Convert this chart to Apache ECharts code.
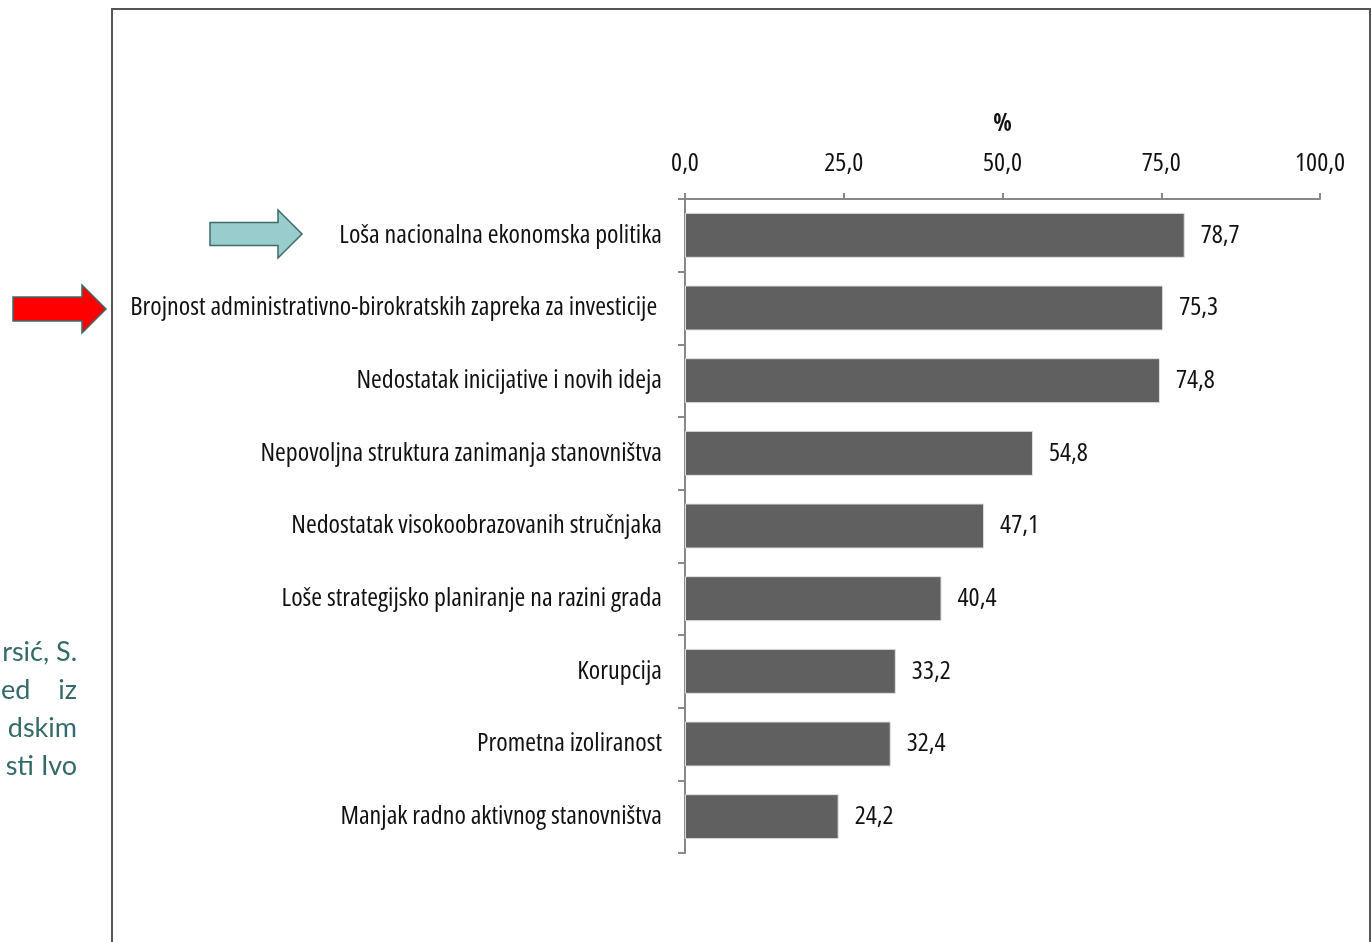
<!DOCTYPE html>
<html>
<head>
<meta charset="utf-8">
<title>Prepreke razvoju</title>
<script src="https://cdn.jsdelivr.net/npm/echarts@6/dist/echarts.min.js"></script>
<style>
    html, body { margin: 0; padding: 0; background: #fff; }
    #chart { width: 1371px; height: 942px; }
</style>
</head>
<body>
<div id="chart"></div>
<script>
var categories = [
    "Loša nacionalna ekonomska politika",
    "Brojnost administrativno-birokratskih zapreka za investicije ",
    "Nedostatak inicijative i novih ideja",
    "Nepovoljna struktura zanimanja stanovništva",
    "Nedostatak visokoobrazovanih stručnjaka",
    "Loše strategijsko planiranje na razini grada",
    "Korupcija",
    "Prometna izoliranost",
    "Manjak radno aktivnog stanovništva"
];
var values = [78.7, 75.3, 74.8, 54.8, 47.1, 40.4, 33.2, 32.4, 24.2];
var sideText = ["rsić, S.", "ed|iz", "dskim", "sti Ivo"];

// Open Sans has a width axis, "condensed" goes in the weight slot of the font string
var family = "'Open Sans', sans-serif";
var stretch = "condensed";

function comma(v) {
    return Number(v).toFixed(1).replace(".", ",");
}

// arrows and frame are decoration, drawn in pixels
function arrow(x, y, w, h, body, headX, fill) {
    return {
        type: "polygon",
        shape: {
            points: [
                [x, y - body / 2], [headX, y - body / 2], [headX, y - h / 2],
                [x + w, y], [headX, y + h / 2], [headX, y + body / 2], [x, y + body / 2]
            ]
        },
        style: { fill: fill, stroke: "#3d6b6b", lineWidth: 1.5 }
    };
}

var graphics = [
    { type: "rect", shape: { x: 112, y: 9, width: 1258, height: 940 },
      style: { fill: "none", stroke: "#555", lineWidth: 2 } },
    arrow(210, 234, 92, 48, 23, 278, "#99cccc"),
    arrow(13, 309, 93, 48, 24, 82, "#ff0000")
];
var sideY = [652, 690, 728, 766];
var sideFont = "27px Lato, 'Open Sans', sans-serif";
sideText.forEach(function(t, i) {
    var parts = t.split("|");
    if (parts.length > 1) {
        graphics.push({ type: "text", x: 1, y: sideY[i],
            style: { text: parts[0], fill: "#35696a", font: sideFont, align: "left", verticalAlign: "middle" } });
    }
    graphics.push({ type: "text", x: 77, y: sideY[i],
        style: { text: parts[parts.length - 1], fill: "#35696a", font: sideFont, align: "right", verticalAlign: "middle" } });
});

var chart = echarts.init(document.getElementById("chart"));
chart.setOption({
    backgroundColor: "#fff",
    animation: false,
    grid: { left: 685, right: 51, top: 199, bottom: 89 },
    xAxis: {
        type: "value",
        position: "top",
        min: 0, max: 100, interval: 25,
        name: "%",
        nameLocation: "middle",
        nameGap: 63,
        nameTextStyle: { fontFamily: family, fontWeight: "bold " + stretch, fontSize: 24, color: "#111" },
        axisLine: { show: true, lineStyle: { color: "#888", width: 2 } },
        axisTick: { show: true, length: 6, lineStyle: { color: "#888", width: 2 } },
        axisLabel: { margin: 22, fontFamily: family, fontWeight: stretch, fontSize: 26, color: "#111", formatter: comma },
        splitLine: { show: false }
    },
    yAxis: {
        type: "category",
        inverse: true,
        data: categories,
        axisLine: { lineStyle: { color: "#888", width: 2 } },
        axisTick: { show: true, length: 7, lineStyle: { color: "#888", width: 2 } },
        axisLabel: { margin: 23, fontFamily: family, fontWeight: stretch, fontSize: 26, color: "#111" }
    },
    series: [{
        type: "bar",
        data: values,
        barWidth: 45,
        itemStyle: { color: "#606060", borderColor: "#e0e0e0", borderWidth: 1 },
        label: {
            show: true, position: "right", distance: 16,
            fontFamily: family, fontWeight: stretch, fontSize: 26, color: "#111",
            formatter: function(p) { return comma(p.value); }
        }
    }],
    graphic: graphics
});
</script>
</body>
</html>
